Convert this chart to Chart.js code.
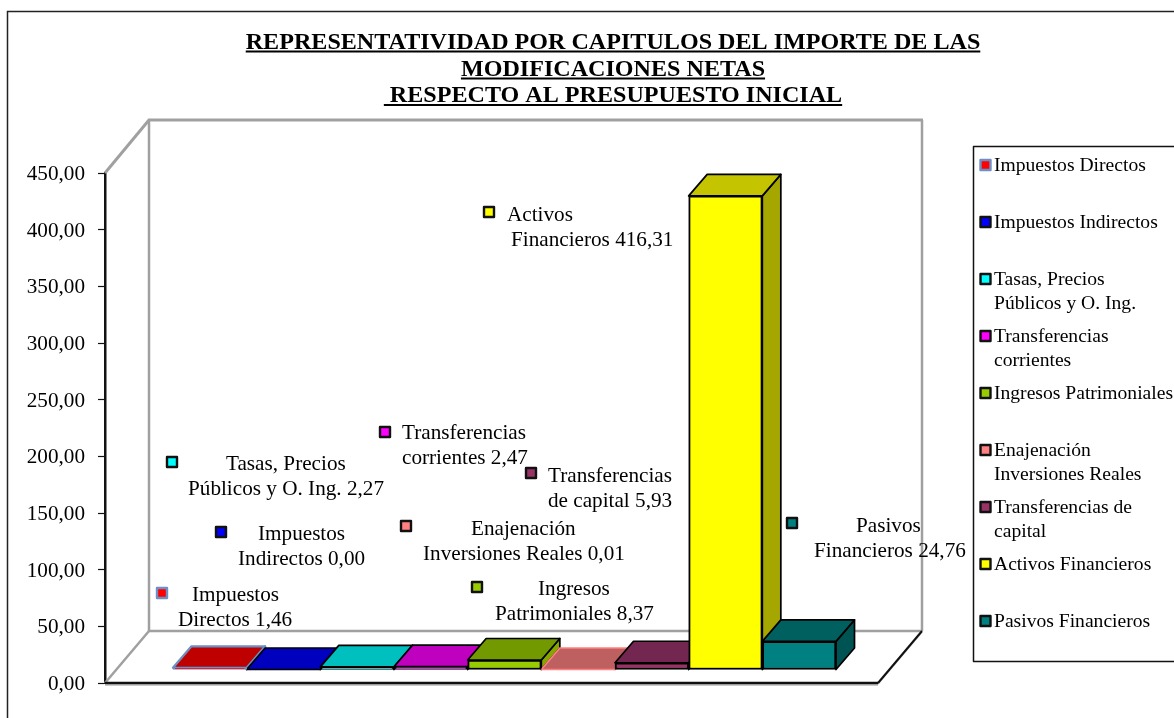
<!DOCTYPE html>
<html>
<head>
<meta charset="utf-8">
<style>html,body{margin:0;padding:0;background:#fff}#wrap{width:1174px;height:718px}</style>
<script src="https://cdn.jsdelivr.net/npm/chart.js@4"></script>
</head>
<body>
<div id="wrap"><canvas id="modChart" width="1174" height="718"></canvas></div>
<script>
// data
const titleLines=['REPRESENTATIVIDAD POR CAPITULOS DEL IMPORTE DE LAS','MODIFICACIONES NETAS',' RESPECTO AL PRESUPUESTO INICIAL'];
const categories=['Impuestos Directos','Impuestos Indirectos','Tasas, Precios Públicos y O. Ing.','Transferencias corrientes','Ingresos Patrimoniales','Enajenación Inversiones Reales','Transferencias de capital','Activos Financieros','Pasivos Financieros'];
const values=[1.46,0.00,2.27,2.47,8.37,0.01,5.93,416.31,24.76];
const legendLines=[['Impuestos Directos'],['Impuestos Indirectos'],['Tasas, Precios','Públicos y O. Ing.'],['Transferencias','corrientes'],['Ingresos Patrimoniales'],['Enajenación','Inversiones Reales'],['Transferencias de','capital'],['Activos Financieros'],['Pasivos Financieros']];
const labelLines=[['Impuestos','Directos'],['Impuestos','Indirectos'],['Tasas, Precios','Públicos y O. Ing.'],['Transferencias','corrientes'],['Ingresos','Patrimoniales'],['Enajenación','Inversiones Reales'],['Transferencias','de capital'],['Activos','Financieros'],['Pasivos','Financieros']];
const yTicks=[0,50,100,150,200,250,300,350,400,450];

// colours: front, top, side
const fronts=['#ff0000','#0000ff','#00ffff','#ff00ff','#99cc00','#ff8080','#993366','#ffff00','#008080'];
const tops=['#bf0000','#0000bf','#00bfbf','#bf00bf','#739900','#bf6060','#732650','#c4c400','#006060'];
const sides=['#a60000','#0000a6','#00a6a6','#a600a6','#85a600','#a65353','#632145','#a6a600','#005353'];
const edges=['#6d8fc4','#000','#000','#000','#000','#ff8080','#000','#000','#000'];
const edgeWidths=[2.5,2,2,2,2,2,2,2,2];

// hand placed data labels, as in the original sheet: key x/y, text left x per line, first line y
const labelSpots=[
  {kx:162,ky:593,tx:[192,178],ty:595},
  {kx:221,ky:532,tx:[258,238],ty:534},
  {kx:172,ky:462,tx:[226,188],ty:464},
  {kx:385,ky:432,tx:[402,402],ty:433},
  {kx:477,ky:587,tx:[538,495],ty:589},
  {kx:406,ky:526,tx:[471,423],ty:529},
  {kx:531,ky:473,tx:[548,548],ty:476},
  {kx:489,ky:212,tx:[507,511],ty:215},
  {kx:792,ky:523,tx:[856,814],ty:526}
];

const FONT='"Liberation Serif"';
const TEXT_SIZE=21.2;
const LEGEND_SIZE=19.6;
const fmt=v=>v.toFixed(2).replace('.',',');
const BAR_DX=18.5,BAR_DY=-21.5;   // bar depth
const FLOOR_DX=44,FLOOR_DY=-52;   // box depth

function poly(ctx,pts,fill,stroke,lw){
  ctx.beginPath();
  pts.forEach((p,i)=>i?ctx.lineTo(p[0],p[1]):ctx.moveTo(p[0],p[1]));
  ctx.closePath();
  if(fill){ctx.fillStyle=fill;ctx.fill();}
  if(stroke){ctx.strokeStyle=stroke;ctx.lineWidth=lw;ctx.lineJoin='round';ctx.stroke();}
}
function line(ctx,x1,y1,x2,y2,color,lw){
  ctx.beginPath();ctx.moveTo(x1,y1);ctx.lineTo(x2,y2);
  ctx.strokeStyle=color;ctx.lineWidth=lw;ctx.stroke();
}
function key(ctx,x,y,fill,edge){
  ctx.fillStyle=fill;ctx.strokeStyle=edge;ctx.lineWidth=2.4;ctx.lineJoin='round';
  ctx.fillRect(x-5,y-5,10,10);ctx.strokeRect(x-5,y-5,10,10);
}

const box3d={
  id:'box3d',
  beforeDatasetsDraw(chart){
    const ctx=chart.ctx,a=chart.chartArea,L=a.left,R=a.right,T=a.top,B=a.bottom;
    ctx.save();
    // outer frame
    ctx.strokeStyle='#222';ctx.lineWidth=1.5;
    ctx.beginPath();ctx.moveTo(7.5,718);ctx.lineTo(7.5,11.5);ctx.lineTo(1174,11.5);ctx.stroke();
    // walls and floor
    const g='#a0a0a0',backTop=T+FLOOR_DY-1;
    line(ctx,L,T,L+FLOOR_DX,backTop,g,3);
    line(ctx,L+FLOOR_DX-1,backTop,R+FLOOR_DX+1,backTop,g,3);
    line(ctx,L+FLOOR_DX,backTop,L+FLOOR_DX,B+FLOOR_DY,g,2.5);
    line(ctx,R+FLOOR_DX,backTop,R+FLOOR_DX,B+FLOOR_DY,g,2.5);
    line(ctx,L+FLOOR_DX,B+FLOOR_DY,R+FLOOR_DX,B+FLOOR_DY,g,2.5);
    line(ctx,L,B,L+FLOOR_DX,B+FLOOR_DY,g,2.5);
    line(ctx,L,B+2,R,B+2,'#b8b8b8',1.5);
    line(ctx,R,B+1,R+FLOOR_DX,B+FLOOR_DY+1,'#b8b8b8',1.5);
    line(ctx,R,B,R+FLOOR_DX,B+FLOOR_DY,'#111',2);
    line(ctx,L,B,R,B,'#111',2.5);
    // depth faces of the bars, the fronts come from Chart.js on top of these
    chart.getDatasetMeta(0).data.forEach((bar,i)=>{
      const l=bar.x-bar.width/2,r=bar.x+bar.width/2,y=bar.y,b=bar.base;
      poly(ctx,[[r,y],[r+BAR_DX,y+BAR_DY],[r+BAR_DX,b+BAR_DY],[r,b]],sides[i],edges[i],edgeWidths[i]-.3);
      poly(ctx,[[l,y],[l+BAR_DX,y+BAR_DY],[r+BAR_DX,y+BAR_DY],[r,y]],tops[i],edges[i],edgeWidths[i]-.3);
    });
    ctx.restore();
  },
  afterDraw(chart){
    const ctx=chart.ctx;
    ctx.save();
    // title with underline
    ctx.font='bold 24.1px '+FONT;ctx.fillStyle='#000';ctx.textAlign='left';ctx.textBaseline='alphabetic';
    const titleY=[48.5,75.5,102];
    titleLines.forEach((t,i)=>{
      const w=ctx.measureText(t).width,x=613-w/2;
      ctx.fillText(t,x,titleY[i]);
      ctx.fillRect(x,titleY[i]+2,w,2);
    });
    // data labels
    ctx.font=TEXT_SIZE+'px '+FONT;ctx.textBaseline='middle';
    labelSpots.forEach((s,i)=>{
      key(ctx,s.kx,s.ky,fronts[i],i===0?'#6d8fc4':'#111');
      ctx.fillStyle='#000';
      labelLines[i].forEach((t,j)=>{
        const txt=j===labelLines[i].length-1?t+' '+fmt(values[i]):t;
        ctx.fillText(txt,s.tx[j],s.ty+j*25);
      });
    });
    // legend box
    ctx.font=LEGEND_SIZE+'px '+FONT;
    ctx.strokeStyle='#111';ctx.lineWidth=1.5;
    ctx.beginPath();ctx.moveTo(1174,146.5);ctx.lineTo(973.5,146.5);ctx.lineTo(973.5,661.5);ctx.lineTo(1174,661.5);ctx.stroke();
    legendLines.forEach((lines,i)=>{
      const y=165+57*i;
      key(ctx,985.5,y,fronts[i],i===0?'#6d8fc4':'#111');
      ctx.fillStyle='#000';
      lines.forEach((t,j)=>ctx.fillText(t,994,y+1+j*24));
    });
    ctx.restore();
  }
};

new Chart(document.getElementById('modChart').getContext('2d'),{
  type:'bar',
  data:{
    labels:categories,
    datasets:[{
      data:values.map((v,i)=>({x:i,y:v})),
      backgroundColor:fronts,
      borderColor:edges,
      borderWidth:edgeWidths,
      borderSkipped:false,
      barPercentage:1,
      categoryPercentage:1,
      yAxisID:'barY',
      clip:false
    }]
  },
  options:{
    responsive:false,
    animation:false,
    layout:{padding:{top:173,bottom:35,right:296,left:0}},
    plugins:{legend:{display:false},title:{display:false},tooltip:{enabled:false}},
    scales:{
      x:{type:'linear',display:false,offset:false,min:-1.4226,max:9.07},
      y:{
        position:'left',min:0,max:450,
        afterFit(s){s.width=105;},
        afterBuildTicks(s){s.ticks=yTicks.map(v=>({value:v}));},
        border:{color:'#111',width:2.5},
        grid:{drawOnChartArea:false,tickLength:7,tickColor:'#111',tickWidth:1.2},
        ticks:{color:'#000',padding:13,labelOffset:1.5,font:{family:FONT,size:TEXT_SIZE},callback:v=>fmt(v)}
      },
      // the bars stand a bit inside the floor, so they get their own hidden axis
      barY:{display:false,min:-11.87,max:436.45}
    }
  },
  plugins:[box3d]
});
</script>
</body>
</html>
